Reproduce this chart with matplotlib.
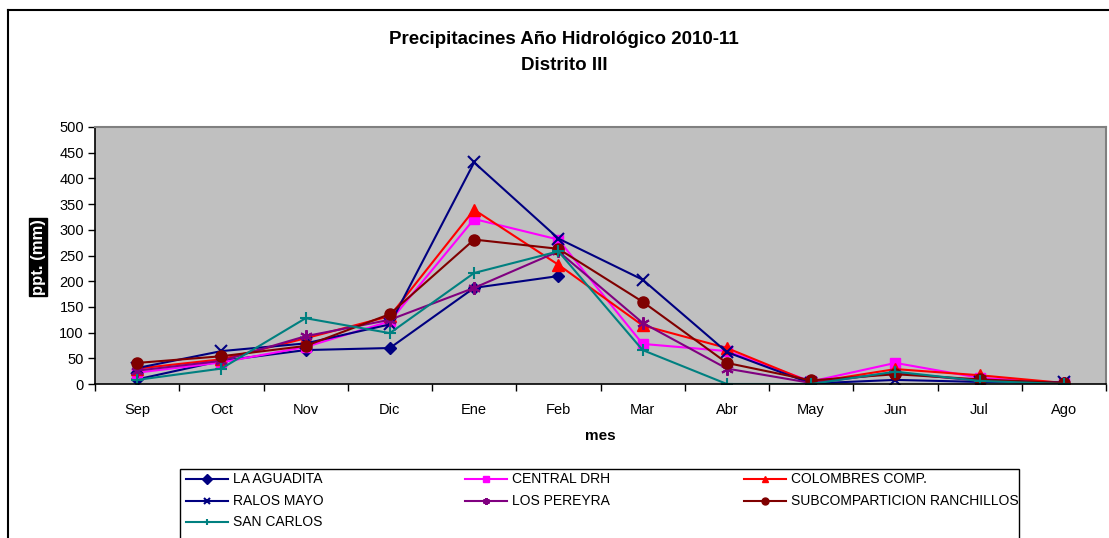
import numpy as np
import matplotlib
matplotlib.use("Agg")
import matplotlib.pyplot as plt
from matplotlib.patches import Rectangle
from matplotlib.lines import Line2D

months = ["Sep", "Oct", "Nov", "Dic", "Ene", "Feb", "Mar", "Abr", "May", "Jun", "Jul", "Ago"]
nan = np.nan
la_aguadita = [9, 45, 66, 70, 187, 210, nan, nan, nan, nan, nan, nan]
central_drh = [22, 42, 72, 122, 321, 281, 78, 64, 5, 41, 12, 2]
colombres = [30, 48, 89, 132, 339, 232, 114, 70, 3, 29, 17, 2]
ralos_mayo = [31, 64, 79, 116, 431, 283, 203, 62, 1, 8, 4, 3]
los_pereyra = [26, 45, 93, 125, 187, 258, 119, 30, 2, 22, 6, 2]
ranchillos = [41, 54, 74, 136, 281, 263, 160, 41, 7, 19, 9, 2]
san_carlos = [8, 30, 128, 99, 216, 258, 66, 0, 0, 24, 6, 0]

series = [
    ("LA AGUADITA", la_aguadita, "#000080", "D", 6),
    ("CENTRAL DRH", central_drh, "#FF00FF", "s", 7),
    ("COLOMBRES COMP.", colombres, "#FF0000", "^", 8),
    ("RALOS MAYO", ralos_mayo, "#000080", "x", 9),
    ("LOS PEREYRA", los_pereyra, "#800080", (6, 2, 0), 9),
    ("SUBCOMPARTICION RANCHILLOS", ranchillos, "#800000", "o", 8),
    ("SAN CARLOS", san_carlos, "#008080", "+", 9),
]

plt.rcParams['font.family'] = ['Liberation Sans', 'DejaVu Sans']

W, H = 1109, 538
fig = plt.figure(figsize=(W / 100, H / 100), dpi=100)
fig.patch.set_facecolor("white")

def fx(px):
    return px / W

def fy(py):
    return 1 - py / H

# outer chart border
fig.add_artist(Line2D([fx(8), fx(8)], [0, fy(10)], transform=fig.transFigure, color="black", lw=1.5))
fig.add_artist(Line2D([fx(8), 1], [fy(10), fy(10)], transform=fig.transFigure, color="black", lw=1.5))

ax = fig.add_axes([fx(95), fy(384), (1106 - 95) / W, (384 - 127) / H])
ax.set_facecolor("#C0C0C0")

x = np.arange(len(months))

def mew_for(mk):
    return 1.5 if mk in ("x", "+") or isinstance(mk, tuple) else 1

for name, vals, col, mk, ms in series:
    ax.plot(x, vals, color=col, lw=1.5, marker=mk, markersize=ms,
            markeredgewidth=mew_for(mk), markerfacecolor=col, markeredgecolor=col, label=name)

ax.set_xlim(-0.5, len(months) - 0.5)
ax.set_ylim(0, 500)
ax.set_yticks(np.arange(0, 501, 50))
ax.set_xticks(np.arange(-0.5, len(months), 1.0))
ax.set_xticklabels([])
ax.set_xticks(x, minor=True)
ax.set_xticklabels(months, minor=True)
ax.tick_params(axis="x", which="major", length=5, direction="out", width=1)
ax.tick_params(axis="x", which="minor", length=0, pad=14, labelsize=10.5)
ax.tick_params(axis="y", length=5, direction="out", width=1, labelsize=10.5, pad=3)

for s in ("top", "right"):
    ax.spines[s].set_color("#808080")
    ax.spines[s].set_linewidth(1.5)
for s in ("left", "bottom"):
    ax.spines[s].set_color("black")
    ax.spines[s].set_linewidth(1.2)

ax.set_xlabel("mes", fontsize=11, fontweight="bold", labelpad=8)

fig.text(fx(38), fy(257), "ppt. (mm)", rotation=90, ha="center", va="center",
         color="white", fontsize=12, fontweight="bold",
         bbox=dict(facecolor="black", edgecolor="black", pad=1.0))

fig.text(fx(564), fy(40), "Precipitacines Año Hidrológico 2010-11", ha="center", va="center",
         fontsize=13.5, fontweight="bold")
fig.text(fx(564), fy(65), "Distrito III", ha="center", va="center",
         fontsize=13.5, fontweight="bold")

# legend (manual, row-major, 3 columns)
fig.add_artist(Rectangle((fx(180), -0.05), fx(1019) - fx(180), fy(469) + 0.05,
                         transform=fig.transFigure, facecolor="white", edgecolor="black", lw=1.0))
col_x = [186, 465, 744]
row_y = [479, 501, 522]
for i, (name, vals, col, mk, ms) in enumerate(series):
    r, c = divmod(i, 3)
    x0 = col_x[c]
    yy = fy(row_y[r])
    fig.add_artist(Line2D([fx(x0), fx(x0 + 42)], [yy, yy], transform=fig.transFigure,
                          color=col, lw=1.5))
    fig.add_artist(Line2D([fx(x0 + 21)], [yy], transform=fig.transFigure, color=col,
                          marker=mk, markersize=5, markeredgewidth=mew_for(mk),
                          markerfacecolor=col, markeredgecolor=col, linestyle="none"))
    fig.text(fx(x0 + 47), yy, name, ha="left", va="center", fontsize=10)

fig.savefig("out.png", dpi=100, facecolor="white")
